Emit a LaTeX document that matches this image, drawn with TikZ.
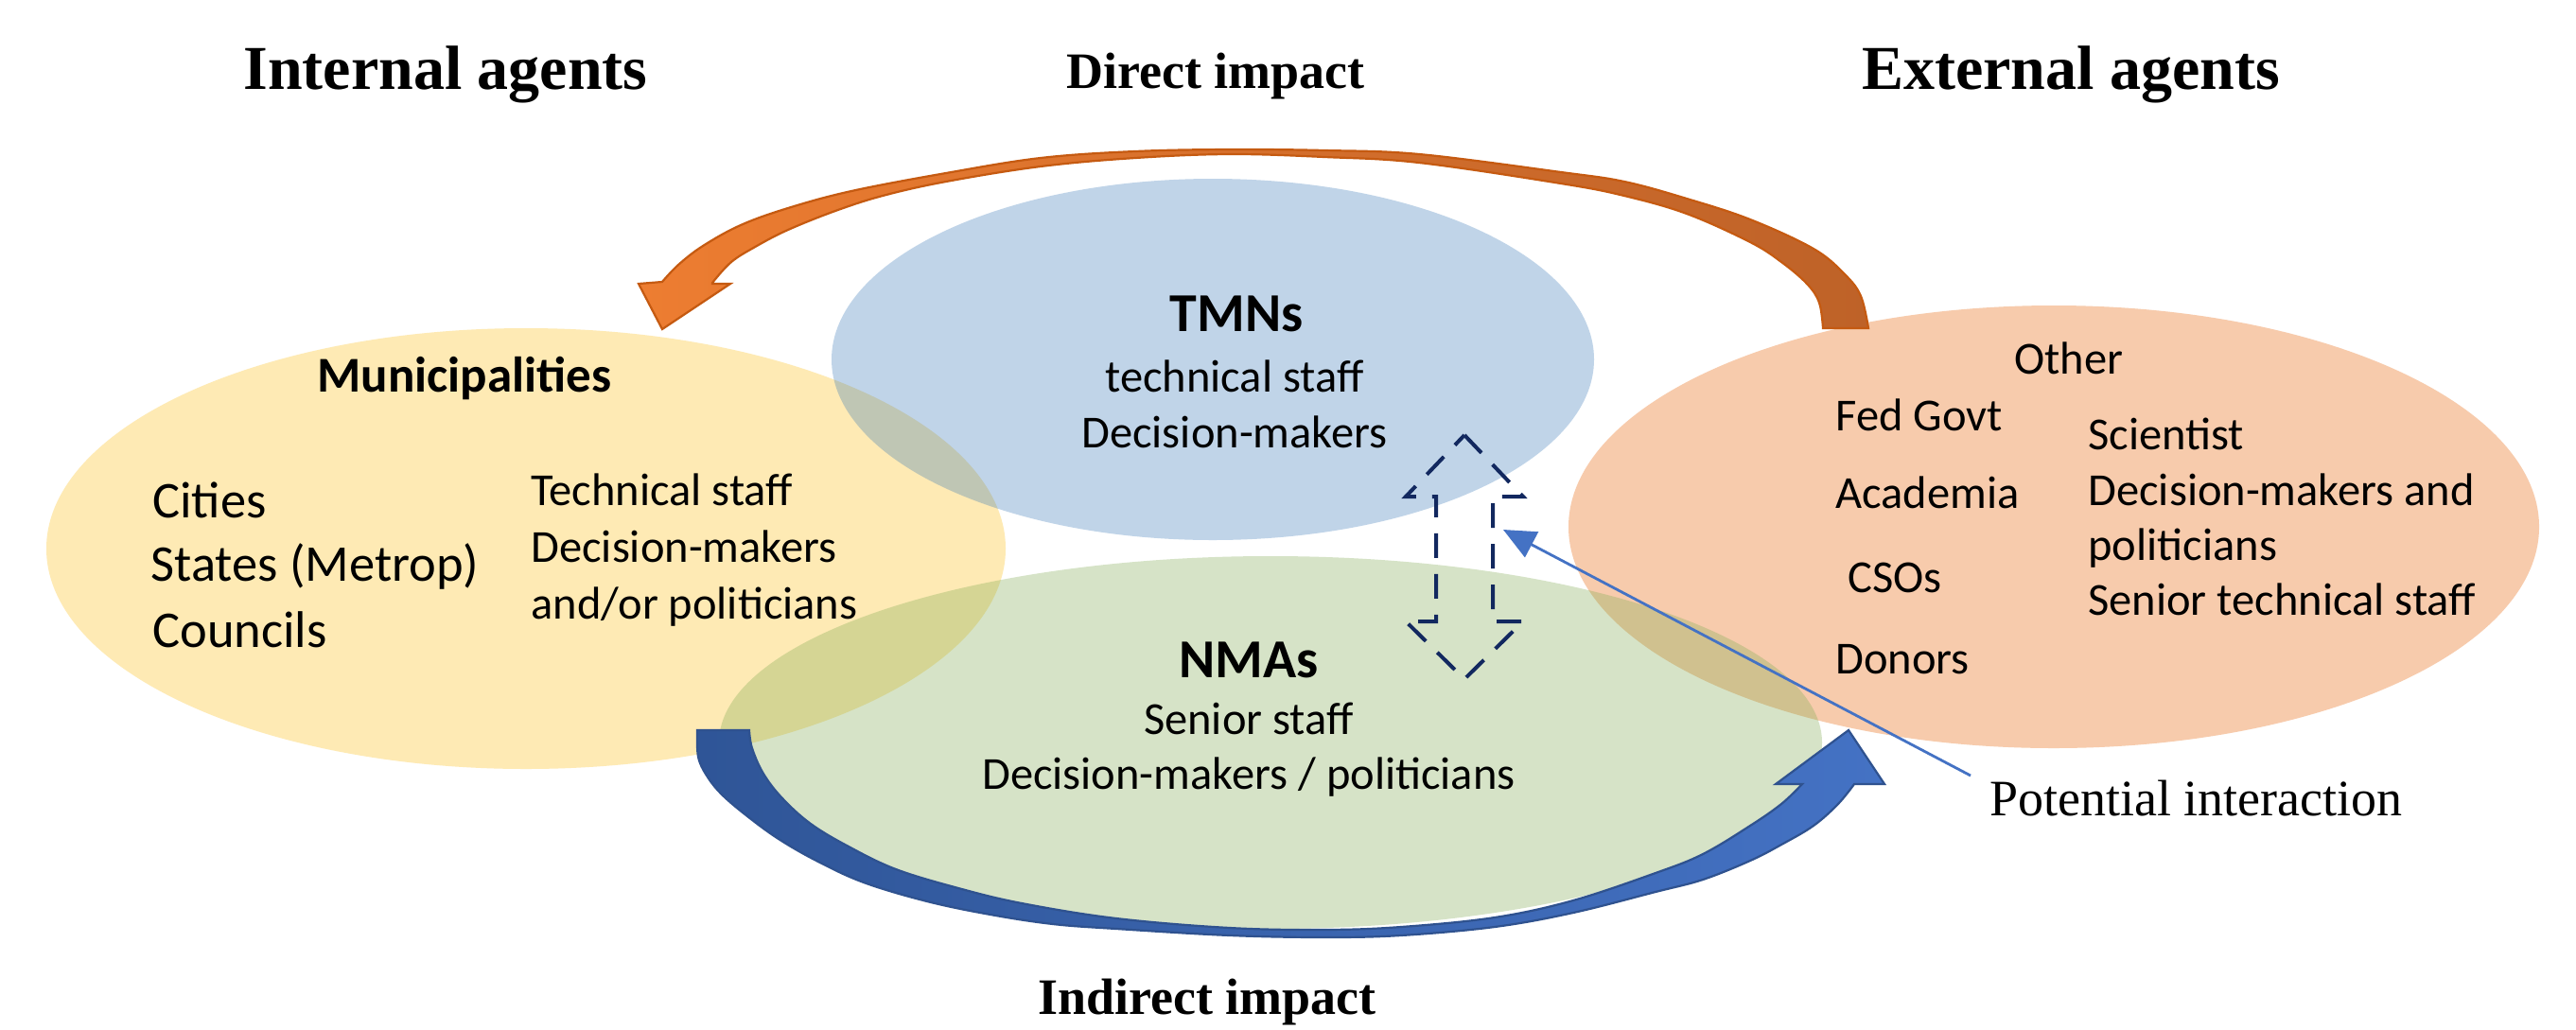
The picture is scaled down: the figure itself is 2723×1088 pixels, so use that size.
\documentclass[tikz,border=0pt]{standalone}
\usepackage{fontspec}
\setmainfont{Liberation Serif}
\newfontfamily\calib{Carlito}
\usetikzlibrary{shapes.geometric, arrows.meta}

\definecolor{yel}{RGB}{254,234,180}
\definecolor{pea}{RGB}{247,203,172}
\definecolor{blu}{RGB}{48,115,182}
\definecolor{grn}{RGB}{131,173,85}
\definecolor{orL}{RGB}{237,125,49}
\definecolor{orD}{RGB}{190,98,40}
\definecolor{orE}{RGB}{197,90,17}
\definecolor{bL}{RGB}{47,85,151}
\definecolor{bR}{RGB}{68,114,196}
\definecolor{bE}{RGB}{47,82,143}
\definecolor{navy}{RGB}{18,40,95}
\definecolor{pline}{RGB}{68,114,196}

\begin{document}
\begin{tikzpicture}[x=0.5pt, y=-0.5pt,
  blob/.style={ellipse, inner sep=0pt, draw=none},
  ttl/.style={font=\fontsize{33}{36}\selectfont\bfseries, anchor=base, inner sep=0pt},
  imp/.style={font=\fontsize{27}{30}\selectfont\bfseries, anchor=base, inner sep=0pt},
  pil/.style={font=\fontsize{27}{30}\selectfont, anchor=base west, inner sep=0pt},
  bw/.style={font=\calib\fontsize{24.25}{28}\selectfont, anchor=base west, inner sep=0pt},
  bc/.style={font=\calib\fontsize{24.25}{28}\selectfont, anchor=base, inner sep=0pt},
  big/.style={font=\calib\fontsize{27.25}{30}\selectfont, anchor=base west, inner sep=0pt},
  hdw/.style={font=\calib\bfseries\fontsize{26.5}{30}\selectfont, anchor=base west, inner sep=0pt},
  hdc/.style={font=\calib\bfseries\fontsize{29}{32}\selectfont, anchor=base, inner sep=0pt},
  dashbox/.style={draw=navy, line width=2pt, dash pattern=on 13pt off 8.5pt, line join=miter},
]
\useasboundingbox (0,0) rectangle (2723,1088);
\fill[white] (0,0) rectangle (2723,1088);

% ellipses
\node[blob, fill=yel, minimum width=507pt, minimum height=233pt] (muni) at (556,580) {};
\node[blob, fill=pea, minimum width=513pt, minimum height=234pt] (ext) at (2171,557) {};
\node[blob, fill=blu, fill opacity=0.3, minimum width=403pt, minimum height=191pt] (tmn) at (1282,380) {};
\node[blob, fill=grn, fill opacity=0.33, minimum width=583pt, minimum height=197pt] (nma) at (1343,785) {};

% orange curved arrow (direct impact)
\path[draw=orE, line width=1.1pt, left color=orL, right color=orD, line join=miter]
  plot[smooth, tension=0.6] coordinates {(1975,347) (1967,313) (1950,290) (1917,263) (1850,232) (1783,210) (1717,192) (1650,182) (1500,163) (1400,159) (1300,158) (1200,160) (1100,167) (1000,183) (900,202) (833,220) (783,238) (743,260) (717,280) (700,298)}
  -- (675,300) -- (700,348) -- (772,300) -- (753,300)
  -- plot[smooth, tension=0.6] coordinates {(753,299) (773,277) (800,260) (833,243) (883,223) (933,207) (1000,192) (1100,176) (1200,167) (1300,163) (1400,166) (1500,172) (1650,194) (1717,207) (1783,226) (1850,256) (1883,277) (1910,300) (1923,320) (1927,347)}
  -- cycle;

% blue curved arrow (indirect impact)
\path[draw=bE, line width=1.1pt, left color=bL, middle color=bL, right color=bR, line join=miter]
  plot[smooth, tension=0.6] coordinates {(737,772) (738,800) (747,820) (763,840) (790,863) (823,887) (863,910) (913,933) (980,953) (1047,967) (1113,977) (1180,982) (1300,989) (1400,991) (1481,989) (1580,980) (1663,965) (1750,943) (1800,930) (1850,910) (1883,893) (1917,873) (1943,850) (1960,829)}
  -- (1992,829) -- (1954,772) -- (1877,829) -- (1905,829)
  -- plot[smooth, tension=0.6] coordinates {(1905,829) (1883,850) (1850,873) (1800,903) (1750,923) (1663,952) (1580,970) (1481,980) (1400,983) (1300,981) (1180,971) (1080,955) (1013,939) (947,919) (897,895) (857,871) (827,844) (807,818) (795,791) (792,772)}
  -- cycle;

% dashed up-down arrow
\draw[dashbox] (1548,460) -- (1610,525) -- (1578,525) -- (1578,657) -- (1610,657) -- (1548,718)
  -- (1486,657) -- (1518,657) -- (1518,525) -- (1486,525) -- cycle;

% potential interaction pointer
\coordinate (pistart) at (2083,820);
\coordinate (pitip) at (1589,560);
\draw[pline, line width=1.4pt, -{Triangle[length=17pt, width=15pt]}] (pistart) -- (pitip);

% titles
\node[ttl] (tIA) at (471,94) {Internal agents};
\node[imp] (tDI) at (1285,93) {Direct impact};
\node[ttl] (tEA) at (2189,94) {External agents};
\node[imp] (tII) at (1276,1072) {Indirect impact};
\node[pil] (tPI) at (2103,862) {Potential interaction};

% municipalities
\node[hdw] (mH) at (335,414) {Municipalities};
\node[big] (m1) at (161,547) {Cities};
\node[big] (m2) at (159,614) {States (Metrop)};
\node[big] (m3) at (161,684) {Councils};
\node[bw] (m4) at (561,534) {Technical staff};
\node[bw] (m5) at (561,594) {Decision-makers};
\node[bw] (m6) at (561,654) {and/or politicians};

% TMNs
\node[hdc] (tH) at (1307,350) {TMNs};
\node[bc] (t1) at (1305,414) {technical staff};
\node[bc] (t2) at (1305,473) {Decision-makers};

% NMAs
\node[hdc] (nH) at (1320,716) {NMAs};
\node[bc] (n1) at (1320,776) {Senior staff};
\node[bc] (n2) at (1320,834) {Decision-makers / politicians};

% external
\node[bc] (eH) at (2187,395) {Other};
\node[bw] (e1) at (1940,455) {Fed Govt};
\node[bw] (e2) at (1940,537) {Academia};
\node[bw] (e3) at (1953,626) {CSOs};
\node[bw] (e4) at (1940,712) {Donors};
\node[bw] (e5) at (2207,475) {Scientist};
\node[bw] (e6) at (2207,534) {Decision-makers and};
\node[bw] (e7) at (2207,592) {politicians};
\node[bw] (e8) at (2207,650) {Senior technical staff};
\end{tikzpicture}
\end{document}
